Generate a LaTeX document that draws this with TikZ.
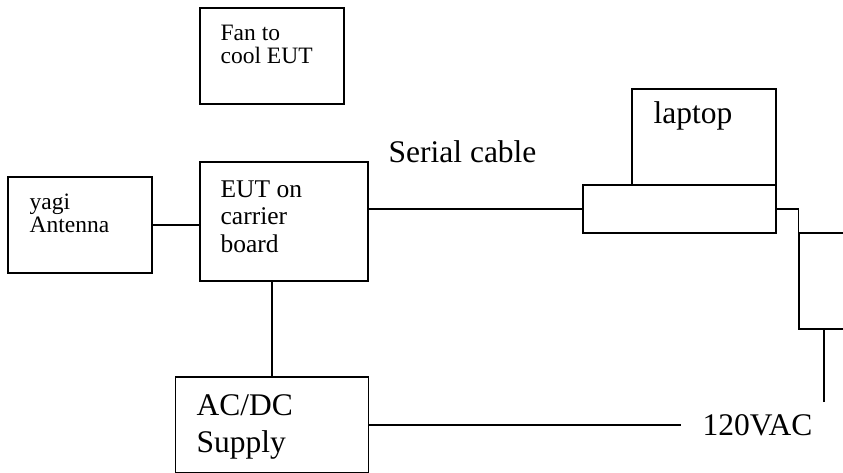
\documentclass[tikz,border=0pt]{standalone}
\usepackage{fontspec}
\setmainfont{Liberation Serif}
\tikzset{
  box/.style={draw, inner sep=0pt},
  lbl/.style={anchor=base west, inner sep=0pt, align=left},
}
\newcommand{\smalltext}{\fontsize{23.5}{22.5}\selectfont}
\newcommand{\midtext}{\fontsize{25.5}{27.5}\selectfont}
\newcommand{\bigtext}{\fontsize{31.5}{37}\selectfont}

\begin{document}
\begin{tikzpicture}[x=1pt,y=-1pt,line width=1.3pt]
  \clip (0,0) rectangle (843,472);

  % boxes
  \node[box, minimum width=144pt, minimum height=96pt] (fan) at (272,56) {};
  \node[box, minimum width=144pt, minimum height=96pt] (yagi) at (80,225) {};
  \node[box, minimum width=168pt, minimum height=119pt] (eut) at (284,221.5) {};
  \node[box, minimum width=193pt, minimum height=96pt] (acdc) at (272,425) {};
  \node[box, minimum width=144pt, minimum height=96pt] (screen) at (704,137) {};
  \node[box, minimum width=193pt, minimum height=48pt] (base) at (679.5,209) {};
  \node[box, minimum width=144pt, minimum height=96pt] (strip) at (871,281) {};

  % texts
  \node[lbl, font=\smalltext] (fantext) at (220,63) {Fan to\\cool EUT};
  \node[lbl, font=\smalltext] (yagitext) at (29,232) {yagi\\Antenna};
  \node[lbl, font=\midtext] (euttext) at (220,252) {EUT on\\carrier\\board};
  \node[lbl, font=\bigtext] (serial) at (388,162) {Serial cable};
  \node[lbl, font=\bigtext] (laptop) at (653,123) {laptop};
  \node[lbl, font=\bigtext] (acdctext) at (196,452) {AC/DC\\Supply};
  \node[lbl, font=\bigtext] (vac) at (702,435) {120VAC};

  \coordinate (plug) at (681,425);
  \coordinate (cord) at (824,402);

  % wiring
  \draw (yagi.east) -- (yagi.east -| eut.west);
  \draw (base.west) -- (base.west -| eut.east);
  \draw (acdc.north) -- (acdc.north |- eut.south);
  \draw (acdc.east) -- (plug);
  \draw (base.east) -| (strip.north west);
  \draw (cord) -- (cord |- strip.south);
\end{tikzpicture}
\end{document}
